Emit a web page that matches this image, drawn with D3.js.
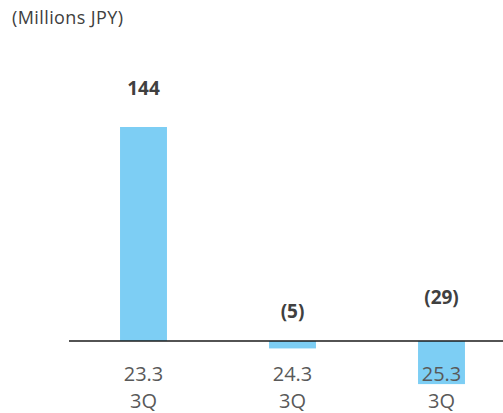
<!DOCTYPE html>
<html>
<head>
<meta charset="utf-8">
<script src="https://cdn.jsdelivr.net/npm/d3@7"></script>
<style>
  html, body { margin: 0; padding: 0; background: #fff; }
  svg { display: block; }
</style>
</head>
<body>
<script>
const categories = ["23.3\n3Q", "24.3\n3Q", "25.3\n3Q"];
const values = [144, -5, -29];
const valueLabels = ["144", "(5)", "(29)"];
const unitLabel = "(Millions JPY)";

const W = 503, H = 413;
const svg = d3.select("body").append("svg").attr("width", W).attr("height", H);

const x = d3.scaleBand().domain(categories).range([69, 516])
  .paddingInner(0.685).paddingOuter(0.3425);
const y = d3.scaleLinear().domain([0, 144]).range([341, 127]);

svg.append("text").attr("x", 12).attr("y", 24)
  .attr("font-family", "Open Sans, sans-serif").attr("font-size", 18)
  .attr("letter-spacing", 0.4)
  .attr("fill", "#404040").text(unitLabel);

svg.selectAll("rect.bar").data(values).join("rect")
  .attr("class", "bar")
  .attr("x", (d, i) => x(categories[i]))
  .attr("width", x.bandwidth())
  .attr("y", d => y(Math.max(0, d)))
  .attr("height", d => Math.abs(y(d) - y(0)))
  .attr("fill", "#7DCEF4");

// axis line
const axis = svg.append("g").attr("transform", `translate(0,${y(0)})`)
  .call(d3.axisBottom(x).tickSize(0).tickFormat(""));
axis.select(".domain").attr("d", `M69,0H503`).attr("stroke", "#1a1a1a").attr("stroke-width", 1.6);

// category labels
svg.selectAll("text.cat").data(categories).join("text")
  .attr("class", "cat")
  .attr("x", d => x(d) + x.bandwidth() / 2)
  .attr("y", 381)
  .attr("text-anchor", "middle")
  .attr("font-family", "Open Sans, sans-serif").attr("font-size", 20)
  .attr("fill", "#595959")
  .selectAll("tspan").data(d => d.split("\n")).join("tspan")
  .attr("x", function() { return d3.select(this.parentNode).attr("x"); })
  .attr("dy", (d, i) => i === 0 ? 0 : 27)
  .text(d => d);

// value labels
svg.selectAll("text.val").data(values).join("text")
  .attr("class", "val")
  .attr("x", (d, i) => x(categories[i]) + x.bandwidth() / 2)
  .attr("y", d => d >= 0 ? y(d) - 32 : y(0) - 20 - 0.4 * (y(d) - y(0)))
  .attr("text-anchor", "middle")
  .attr("font-family", "Open Sans, sans-serif").attr("font-size", 19)
  .attr("font-weight", "bold")
  .attr("fill", "#404040")
  .text((d, i) => valueLabels[i]);
</script>
</body>
</html>
